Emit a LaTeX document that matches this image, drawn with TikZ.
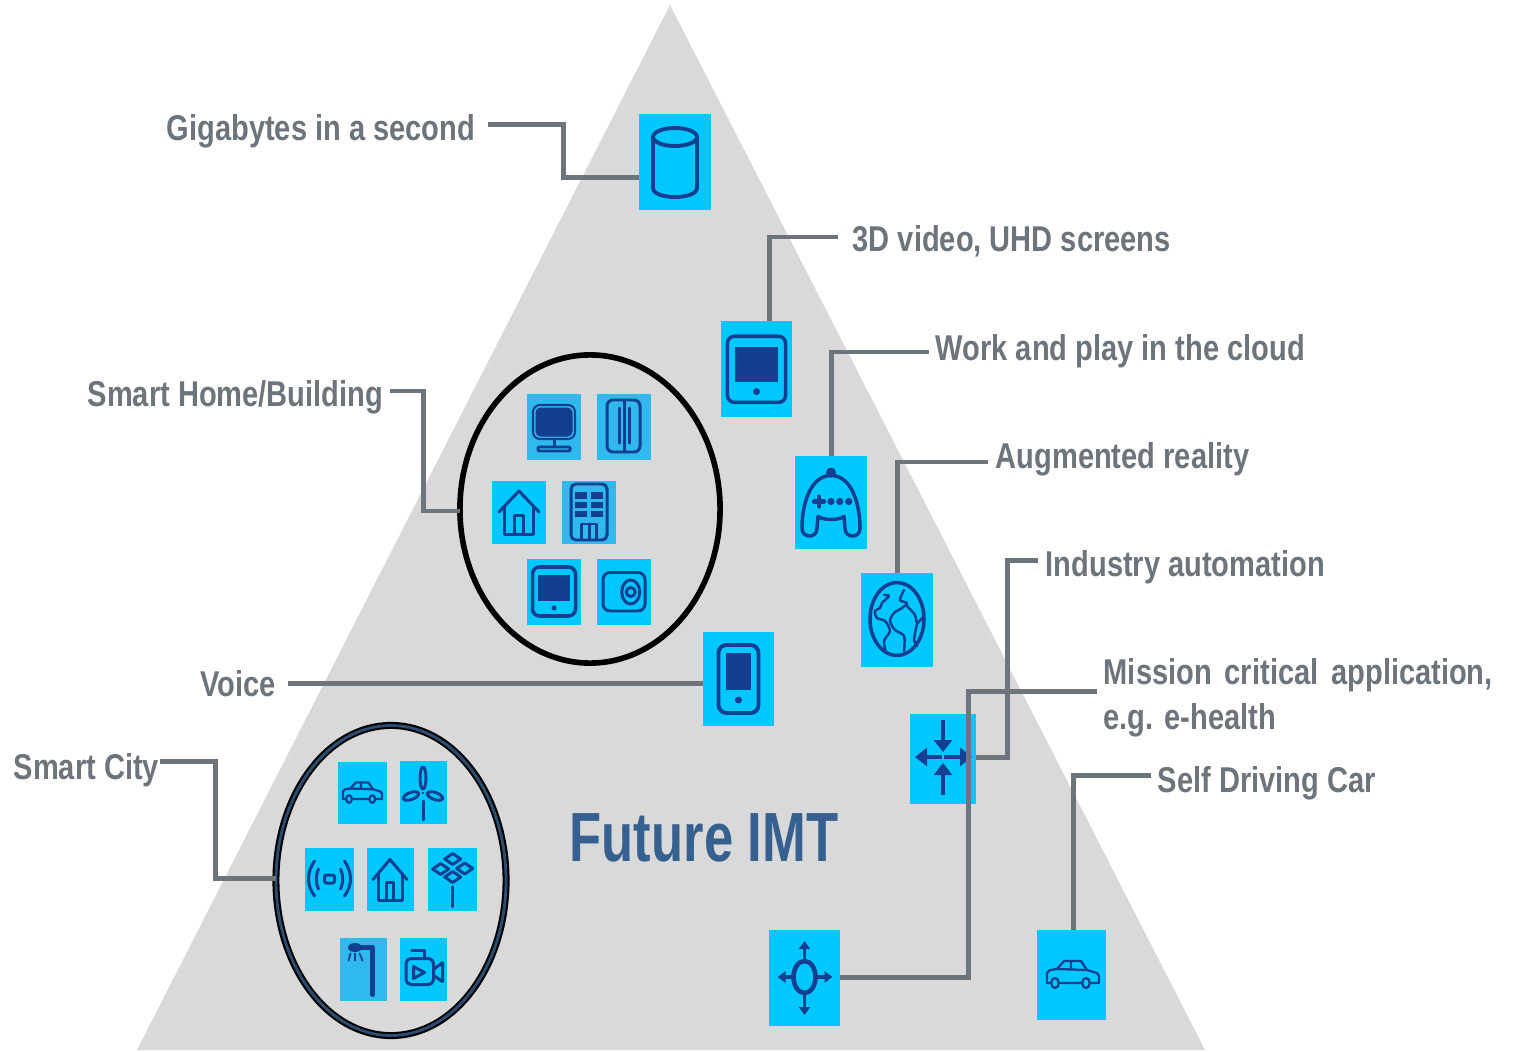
\documentclass[tikz,border=0pt]{standalone}
\usepackage{fontspec}
\setmainfont[FakeStretch=0.81]{Liberation Sans}
\newfontfamily\titlefont[FakeStretch=0.755]{Liberation Sans}
\usetikzlibrary{arrows.meta,shapes.geometric}
\definecolor{pyramidgray}{HTML}{D9D9D9}
\definecolor{boxcyan}{HTML}{00C8FF}
\definecolor{boxpale}{HTML}{2FB9EC}
\definecolor{iconnavy}{HTML}{123F8F}
\definecolor{linegray}{HTML}{6D747C}
\definecolor{titleblue}{HTML}{35608F}
\tikzset{
    iconbox/.style 2 args={fill=boxcyan, inner sep=0pt, outer sep=0pt, minimum width=#1*0.01cm, minimum height=#2*0.01cm},
    iconline/.style={draw=iconnavy, line width=0.85pt, line join=round, line cap=round},
    conn/.style={draw=linegray, line width=1.42pt},
    lbl/.style={anchor=west, inner sep=0pt, text=linegray, font=\bfseries\fontsize{10.2}{12.8}\selectfont},
    inhead/.style={iconnavy, line width=1.3pt, -{Triangle[length=0.12cm, width=0.18cm]}},
    outhead/.style={iconnavy, line width=1.1pt, -{Triangle[length=0.08cm, width=0.11cm]}},
    pics/cylinder/.style={code={
                \draw[iconline, line width=1.1pt] (0,-25) ellipse [x radius=22, y radius=9];
                \draw[iconline, line width=1.1pt] (-22,-25) -- (-22,26) .. controls (-22,38) and (22,38) .. (22,26) -- (22,-25);
            }},
    pics/tablet/.style={code={
                \draw[iconline, line width=1pt, rounded corners=0.07cm] (-21.5,-25) rectangle (21.5,24);
                \fill[iconnavy] (-16,-17) rectangle (16,9);
                \fill[iconnavy] (0,16) circle [radius=2.6];
            }},
    pics/phone/.style={code={
                \draw[iconline, line width=1.1pt, rounded corners=0.08cm] (-20,-34) rectangle (20,34);
                \fill[iconnavy] (-12.5,-26) rectangle (12.5,11);
                \fill[iconnavy] (0,21) circle [radius=3.5];
            }},
    pics/gamepad/.style={code={
                \fill[iconnavy] (0,-30) circle [radius=5];
                \draw[iconline, line width=1pt] (0,-27) .. controls (-20,-27) and (-29,0) .. (-29,26)
                .. controls (-29,36) and (-14,36) .. (-14,26) -- (-13,14)
                .. controls (-7,18) and (7,18) .. (13,14) -- (14,26)
                .. controls (14,36) and (29,36) .. (29,26)
                .. controls (29,0) and (20,-27) .. (0,-27) -- cycle;
                \draw[iconline, line width=1.2pt] (-17,-1) -- (-7,-1) (-12,-6) -- (-12,4);
                \foreach \dx in {0,8.7,17.7} {
                        \fill[iconnavy] (\dx,-1) circle [radius=3.6];
                    }
            }},
    pics/globe/.style={code={
                \draw[iconline, line width=1pt] (0,0) ellipse [x radius=27, y radius=36.5];
                \draw[iconline, line width=0.7pt] plot[smooth] coordinates {(-13,-24) (-8,-23) (-15,-16) (-17,-11) (-22,-8) (-20,-1) (-12,2) (-7,12) (-13,22) (-11,34)};
                \draw[iconline, line width=0.7pt] plot[smooth] coordinates {(7,-29) (3,-19) (10,-16) (5,-11) (-3,-6) (-7,2) (-2,11) (7,17) (7,32)};
                \draw[iconline, line width=0.7pt] plot[smooth] coordinates {(10,-13) (18,-4) (20,4) (25,-1)};
                \draw[iconline, line width=0.7pt] plot[smooth] coordinates {(20,5) (17,21) (20,27)};
            }},
    pics/arrowsin/.style={code={
                \draw[inhead] (0,-37) -- (0,-5);
                \draw[inhead] (0,38) -- (0,6);
                \draw[inhead] (-1,0) -- (-28,0);
                \draw[inhead] (1,0) -- (29,0);
            }},
    pics/arrowsout/.style={code={
                \draw[iconline, line width=1.3pt] (0,0) ellipse [x radius=11, y radius=16];
                \draw[outhead] (0,-16) -- (0,-36);
                \draw[outhead] (0,16) -- (0,38);
                \draw[outhead] (-11,0) -- (-27,0);
                \draw[outhead] (11,0) -- (28,0);
            }},
    pics/caricon/.style={code={
                \draw[iconline, line width=0.65pt] (-26,8) -- (-26,-2) -- (-23,-5) -- (-16,-6) -- (-9,-14) -- (8,-14) -- (14,-5) -- (24,-2) -- (26,1) -- (26,8) -- cycle;
                \draw[iconline, line width=0.65pt] (-16,-6) -- (14,-5) (-2,-14) -- (-2,-6);
                \draw[iconline, line width=0.65pt, fill=boxcyan] (-18,8) ellipse [x radius=3.8, y radius=5];
                \draw[iconline, line width=0.65pt, fill=boxcyan] (13,8) ellipse [x radius=3.8, y radius=5];
            }},
    pics/house/.style={code={
                \draw[iconline] (-17,0) -- (0,-20) -- (17,0);
                \draw[iconline] (-12,-6) -- (-12,21) -- (12,21) -- (12,-6);
                \draw[iconline] (-3.5,21) -- (-3.5,3) -- (3.5,3) -- (3.5,21);
            }},
    pics/monitor/.style={code={
                \draw[iconline, line width=0.6pt, rounded corners=0.07cm] (-21,-22) rectangle (21,12);
                \fill[iconnavy, rounded corners=0.05cm] (-18.5,-19.5) rectangle (18.5,9.5);
                \draw[iconline] (0,12) -- (0,20);
                \draw[iconline, rounded corners=0.01cm] (-16,20) rectangle (16,24);
            }},
    pics/fridge/.style={code={
                \draw[iconline, rounded corners=0.06cm] (-17,-27) rectangle (16,25);
                \draw[iconline] (0,-27) -- (0,25) (-5,-19) -- (-5,16) (5,-19) -- (5,16);
            }},
    pics/building/.style={code={
                \draw[iconline, rounded corners=0.05cm] (-18,-28.5) rectangle (18,27.5);
                \foreach \wy in {-20.5,-11,-2} {
                        \fill[iconnavy] (-14,\wy) rectangle (-2,\wy+6.5);
                        \fill[iconnavy] (2,\wy) rectangle (14,\wy+6.5);
                    }
                \draw[iconline] (-7.5,27) -- (-7.5,11.5) -- (7.5,11.5) -- (7.5,27) (0,11.5) -- (0,27);
            }},
    pics/safebox/.style={code={
                \draw[iconline, rounded corners=0.07cm] (-21,-19.5) rectangle (21,19);
                \draw[iconline] (6.7,0) ellipse [x radius=9, y radius=12];
                \draw[iconline] (6.7,0) circle [radius=4.5];
            }},
    pics/turbine/.style={code={
                \draw[iconline] (0,-15) ellipse [x radius=3, y radius=11];
                \draw[iconline, rotate around={20:(-12,3)}] (-12,3) ellipse [x radius=8, y radius=3.5];
                \draw[iconline, rotate around={-20:(12,3)}] (12,3) ellipse [x radius=8, y radius=3.5];
                \fill[iconnavy] (0,0) circle [radius=1.3];
                \draw[iconline] (0,8) -- (0,27);
            }},
    pics/signal/.style={code={
                \draw[iconline, rounded corners=0.02cm] (-5,-4) rectangle (5,4);
                \draw[iconline] (-11,-10) .. controls (-14,-3) and (-14,3) .. (-11,10);
                \draw[iconline] (11,-10) .. controls (14,-3) and (14,3) .. (11,10);
                \draw[iconline] (-15,-18) .. controls (-23,-6) and (-23,6) .. (-15,17);
                \draw[iconline] (15,-18) .. controls (23,-6) and (23,6) .. (15,17);
            }},
    pics/solar/.style={code={
                \foreach \px/\py in {0/-20.5,-12/-10.5,12/-11,0/-2.5} {
                        \draw[iconline] (\px-8,\py) -- (\px,\py-5.5) -- (\px+8,\py) -- (\px,\py+5.5) -- cycle;
                    }
                \draw[iconline] (0,7) -- (0,27);
            }},
    pics/lamp/.style={code={
                \fill[iconnavy] (-8.5,-22) ellipse [x radius=7, y radius=4.5];
                \draw[iconline, line width=1.4pt] (-3,-22) -- (9,-22) -- (9,25);
                \draw[iconline, line width=0.5pt] (-13,-16) -- (-15,-9) (-8.5,-16) -- (-8.5,-9) (-4,-16) -- (-1,-9);
            }},
    pics/camera/.style={code={
                \draw[iconline, rounded corners=0.05cm] (-17.5,-11) rectangle (10,15);
                \draw[iconline] (-12,-19.5) -- (1,-19.5) -- (1,-11);
                \draw[iconline] (10,0) -- (19,-7) -- (19,12) -- (10,6);
                \draw[iconline] (-10,-3) -- (1,3) -- (-10,9) -- cycle;
            }},
}
\begin{document}
\begin{tikzpicture}[x=0.01cm, y=-0.01cm]
    \useasboundingbox (0,0) rectangle (1537,1052);

    \fill[pyramidgray] (670,5) -- (1205,1050) -- (137,1050) -- cycle;

    \node[draw=black, line width=1.6pt, ellipse, inner sep=0pt, outer sep=0pt, minimum width=2.6cm, minimum height=3.08cm] (homering) at (590,509) {};
    \node[draw=black, line width=2pt, ellipse, inner sep=0pt, outer sep=0pt, minimum width=2.3cm, minimum height=3.1cm] (cityring) at (391,880.5) {};
    \draw[titleblue!80!black, line width=0.8pt] (391,880.5) ellipse [x radius=115, y radius=155];

    \foreach \nm/\cx/\cy/\w/\h/\col in {cylbox/675/162/72/96/boxcyan, tabbox/756.5/369/71/96/boxcyan,
            gamebox/831/502.5/72/93/boxcyan, globebox/897/620/72/94/boxcyan,
            phonebox/738.5/679/71/94/boxcyan, inbox/943/759/66/90/boxcyan,
            outbox/804.5/978/71/96/boxcyan, carbox/1071.5/975/69/90/boxcyan,
            monbox/554/427/54/66/boxpale, fridgebox/624/427/54/66/boxpale,
            homebox/519/512.5/54/63/boxcyan, buildbox/589/512.5/54/63/boxpale,
            smalltabbox/554/592/54/66/boxcyan, safebox/624/592/54/66/boxcyan,
            citycarbox/362.5/793/49/62/boxcyan, windbox/423.5/792.5/47/63/boxcyan,
            signalbox/329.5/879.5/49/63/boxcyan, cityhomebox/390.5/879.5/47/63/boxcyan,
            solarbox/452.5/879.5/49/63/boxcyan, lampbox/363.5/969.5/47/63/boxpale,
            cambox/423.5/969.5/47/63/boxcyan} {
            \node[iconbox={\w}{\h}, fill=\col] (\nm) at (\cx,\cy) {};
        }

    \pic at (675,162) {cylinder};
    \pic[scale=1.35] at (756.5,370) {tablet};
    \pic at (831,502.5) {gamepad};
    \pic at (897,619) {globe};
    \pic at (738.5,679) {phone};
    \pic at (943,757) {arrowsin};
    \pic at (804.5,977) {arrowsout};
    \pic at (1073,975) {caricon};
    \pic at (554,427) {monitor};
    \pic at (624,427) {fridge};
    \pic[xscale=1.18, yscale=1.05] at (519,512) {house};
    \pic at (589,512.5) {building};
    \pic at (554,592) {tablet};
    \pic at (624,592) {safebox};
    \pic[scale=0.75] at (362.5,793) {caricon};
    \pic at (423,793) {turbine};
    \pic at (329.5,879) {signal};
    \pic at (390,879.5) {house};
    \pic at (452.7,879.5) {solar};
    \pic at (363.5,969.5) {lamp};
    \pic at (423.5,969.5) {camera};

    \node[lbl] (gigalbl) at (166,131) {Gigabytes in a second};
    \node[lbl] (videolbl) at (852,241) {3D video, UHD screens};
    \node[lbl] (cloudlbl) at (935,351) {Work and play in the cloud};
    \node[lbl] (arlbl) at (995,459) {Augmented reality};
    \node[lbl] (industrylbl) at (1045,567) {Industry automation};
    \node[lbl, align=left] (missionlbl) at (1103,697.5) {Mission\hspace{0.36em}critical\hspace{0.36em}application,\\e.g. e-health};
    \node[lbl] (selflbl) at (1157,783) {Self Driving Car};
    \node[lbl] (homelbl) at (87,397) {Smart Home/Building};
    \node[lbl] (voicelbl) at (200,684) {Voice};
    \node[lbl] (citylbl) at (13,770) {Smart City};
    \node[anchor=west, inner sep=0pt, text=titleblue, font=\titlefont\bfseries\fontsize{19.8}{24}\selectfont] (titlelbl) at (569,838) {Future IMT};

    \coordinate (gigaend) at (488,125);
    \coordinate (videoend) at (838,237);
    \coordinate (cloudend) at (929,352);
    \coordinate (arend) at (988,462);
    \coordinate (industryend) at (1038,560);
    \coordinate (missionend) at (1097,691);
    \coordinate (selfend) at (1151,775);
    \coordinate (homeend) at (390,391);
    \coordinate (voiceend) at (288,683);
    \coordinate (cityend) at (160,761);

    \draw[conn] (gigaend) -| (563,178) -- (cylbox.west |- 563,178);
    \draw[conn] (videoend) -| (769,321 |- tabbox.north);
    \draw[conn] (cloudend) -| (831,456 |- gamebox.north);
    \draw[conn] (arend) -| (897,573 |- globebox.north);
    \draw[conn] (industryend) -| (1007,757) -- (inbox.east |- 1007,757);
    \draw[conn] (missionend) -| (968,977) -- (outbox.east |- 968,977);
    \draw[conn] (selfend) -| (1073,930 |- carbox.north);
    \draw[conn] (homeend) -| (423,511) -- (homering.west |- 423,511);
    \draw[conn] (voiceend) -- (phonebox.west |- voiceend);
    \draw[conn] (cityend) -| (215,878) -- (cityring.west |- 215,878);
\end{tikzpicture}
\end{document}
